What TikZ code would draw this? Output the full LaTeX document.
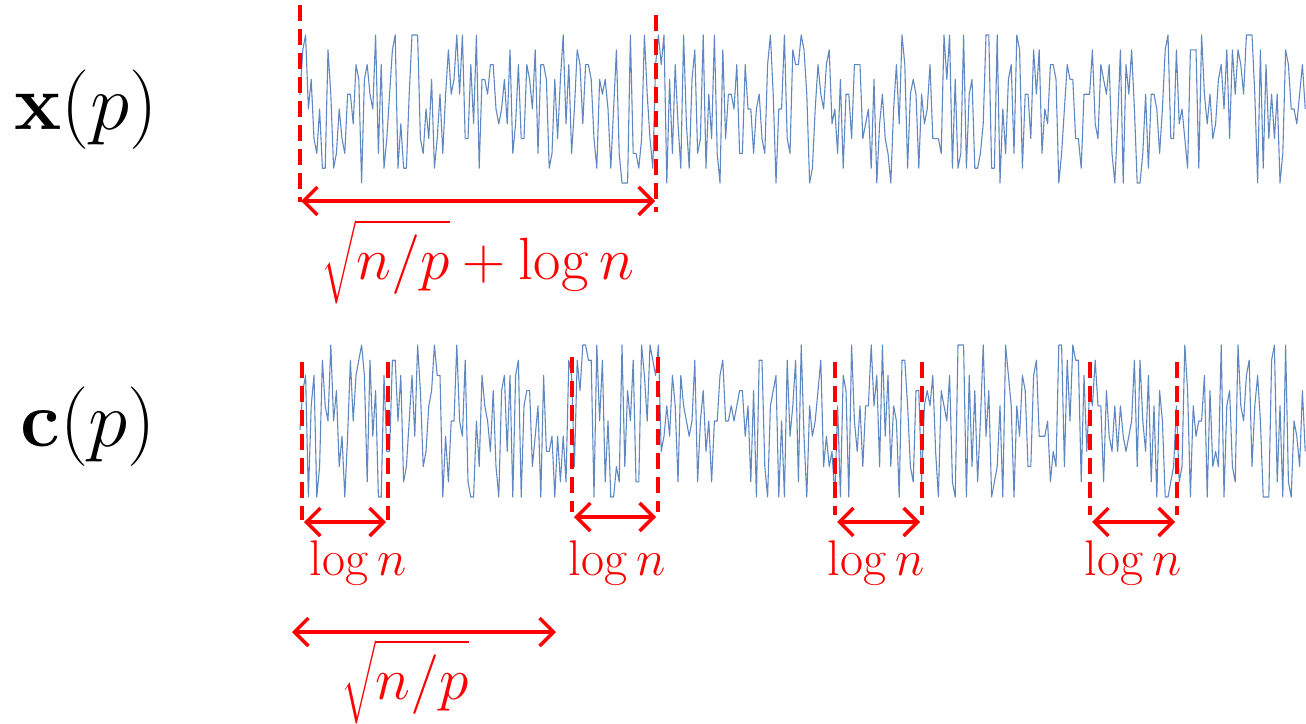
\documentclass[tikz,border=0pt]{standalone}
\usetikzlibrary{arrows.meta}
\definecolor{sig}{HTML}{5F87C2}
\definecolor{myred}{HTML}{FF0000}
\tikzset{
  signal/.style={draw=sig, line width=1.1pt, line join=round},
  vdash/.style={draw=myred, line width=4pt, dash pattern=on 16pt off 8pt},
  span/.style={draw=myred, line width=3.5pt, {Straight Barb[length=14pt,width=28pt]}-{Straight Barb[length=14pt,width=28pt]}},
  redbase/.style={text=myred, font=\LARGE, inner sep=0pt},
  redlab/.style={redbase, scale=3.45},
  loglab/.style={redbase, scale=2.9},
  varlab/.style={font=\LARGE, inner sep=0pt, scale=4.6}
}
\begin{document}
\begin{tikzpicture}[x=1pt,y=-1pt]
\useasboundingbox (0,0) rectangle (1306,723);
% signals
\pgfmathsetseed{11}
\draw[signal] (300,95) \foreach \i in {1,...,359}{ -- ({300+2.8*\i},{183-14.8*random(0,10)}) };
\pgfmathsetseed{29}
\draw[signal] (300,430) \foreach \i in {1,...,359}{ -- ({300+2.8*\i},{497-15.2*random(0,10)}) };
% labels
\node[varlab] (xl) at (86,110) {$\mathbf{x}(p)$};
\node[varlab] (cl) at (88,427) {$\mathbf{c}(p)$};
% x(p) window
\coordinate (xa1) at (300,5);   \coordinate (xa2) at (300,202);
\coordinate (xb1) at (656,15);  \coordinate (xb2) at (656,212);
\draw[vdash] (xa1) -- (xa2);
\draw[vdash] (xb1) -- (xb2);
\coordinate (xs1) at (301,201); \coordinate (xs2) at (655,201);
\draw[span] (xs1) -- (xs2);
\node[redlab] (xlab) at (478,262) {$\sqrt{n/p}+\log n$};
% c(p) windows
\foreach \n/\xa/\xb/\ya/\yb/\ay/\lx in {1/302/388/362/520/522/358, 2/572/658/357/512/517/617, 3/835/922/362/515/522/876, 4/1090/1177/362/515/522/1133}{
  \coordinate (ca\n) at (\xa,\ya); \coordinate (cb\n) at (\xa,\yb);
  \coordinate (da\n) at (\xb,\ya); \coordinate (db\n) at (\xb,\yb);
  \draw[vdash] (ca\n) -- (cb\n);
  \draw[vdash] (da\n) -- (db\n);
  \coordinate (sa\n) at (\xa+2,\ay); \coordinate (sb\n) at (\xb-2,\ay);
  \draw[span] (sa\n) -- (sb\n);
  \node[loglab] (ll\n) at (\lx,563) {$\log n$};
}
% bottom span
\coordinate (ba) at (292,632); \coordinate (bb) at (556,632);
\draw[span] (ba) -- (bb);
\node[redlab] (blab) at (405,682) {$\sqrt{n/p}$};
\end{tikzpicture}
\end{document}
